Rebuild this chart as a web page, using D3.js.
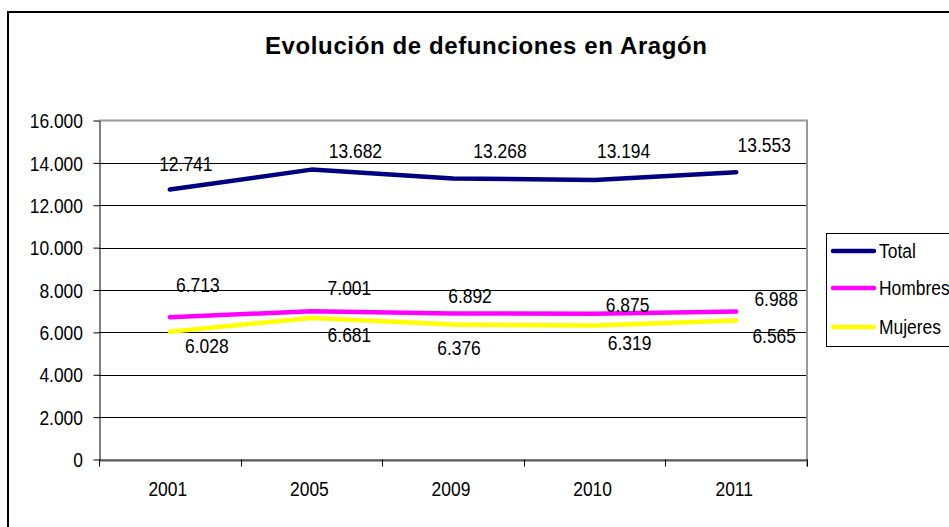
<!DOCTYPE html>
<html>
<head>
<meta charset="utf-8">
<script src="https://cdn.jsdelivr.net/npm/d3@7"></script>
<style>
  html, body { margin: 0; padding: 0; background: #fff; }
  svg { display: block; font-family: "Liberation Sans", Arial, sans-serif; }
</style>
</head>
<body>
<svg id="chart" width="949" height="527"></svg>
<script>
// ---- data ----
const years = ["2001", "2005", "2009", "2010", "2011"];
const total = [12741, 13682, 13268, 13194, 13553];
const hombres = [6713, 7001, 6892, 6875, 6988];
const mujeres = [6028, 6681, 6376, 6319, 6565];
const yTicks = [0, 2000, 4000, 6000, 8000, 10000, 12000, 14000, 16000];
const seriesNames = ["Total", "Hombres", "Mujeres"];
const chartTitle = "Evolución de defunciones en Aragón";

// ---- style config ----
const colors = ["#000080", "#FF00FF", "#FFFF00"];
// manual label offsets (dx, dy from point to label centre/baseline), as placed in the original
const labelOffsets = [
  [[16, -19], [44, -12], [47, -20], [29, -22], [28, -20]],
  [[28, -25], [38, -16], [17, -10], [33, -2], [40, -5]],
  [[37, 21], [38, 24], [6, 31], [35, 24], [38, 23]]
];

const loc = d3.formatLocale({ decimal: ",", thousands: ".", grouping: [3], currency: ["", ""] });
const fmt = loc.format(",d");
const SX = 0.83;
const FS = 21;

const svg = d3.select("#chart");
const pLeft = 99, pRight = 807, pTop = 120.5, pBottom = 459.5;

// outer frame (clipped by page edge)
svg.append("path").attr("d", "M8,560 L8,12 L960,12")
  .attr("fill", "none").attr("stroke", "#000").attr("stroke-width", 2);

// title
svg.append("text")
  .attr("x", 486).attr("y", 54)
  .attr("text-anchor", "middle")
  .attr("font-weight", "bold").attr("font-size", 24)
  .attr("textLength", 442).attr("lengthAdjust", "spacing")
  .text(chartTitle);

const x = d3.scaleBand().domain(years).range([pLeft, pRight]).padding(0);
const y = d3.scaleLinear().domain([0, 16000]).range([pBottom, pTop]);

// gridlines
svg.append("g").selectAll("line").data(yTicks.filter(t => t > 0 && t < 16000)).join("line")
  .attr("x1", pLeft).attr("x2", pRight)
  .attr("y1", d => Math.round(y(d)) + 0.5).attr("y2", d => Math.round(y(d)) + 0.5)
  .attr("stroke", "#000").attr("stroke-width", 1);

// plot area border (top/right grey)
svg.append("path")
  .attr("d", `M${pLeft},${pTop} L${pRight},${pTop} L${pRight},${pBottom + 7}`)
  .attr("fill", "none").attr("stroke", "#999").attr("stroke-width", 2);

// bottom axis line
svg.append("line").attr("x1", pLeft).attr("x2", pRight).attr("y1", pBottom + 1.5).attr("y2", pBottom + 1.5)
  .attr("stroke", "#aaa").attr("stroke-width", 2);
svg.append("line").attr("x1", pLeft).attr("x2", pRight).attr("y1", pBottom + 0.5).attr("y2", pBottom + 0.5)
  .attr("stroke", "#000").attr("stroke-width", 1);

// y axis
const yAxis = d3.axisLeft(y).tickValues(yTicks).tickSize(6).tickSizeOuter(0).tickFormat(d => fmt(d));
const gy = svg.append("g").attr("transform", `translate(${pLeft + 0.5},0)`).call(yAxis);
gy.select(".domain").attr("stroke", "#000");
gy.selectAll(".tick line").attr("stroke", "#000");
gy.selectAll(".tick text")
  .attr("font-family", "Liberation Sans, Arial, sans-serif")
  .attr("font-size", FS).attr("fill", "#000")
  .attr("x", -16.5 / SX).attr("dy", "0.34em")
  .attr("transform", `scale(${SX},1)`);

// x axis labels
const xAxis = d3.axisBottom(x).tickSize(0).tickPadding(22);
const gx = svg.append("g").attr("transform", `translate(0,${pBottom})`).call(xAxis);
gx.select(".domain").remove();
gx.selectAll(".tick text")
  .attr("font-family", "Liberation Sans, Arial, sans-serif")
  .attr("font-size", FS).attr("fill", "#000")
  .attr("transform", `scale(${SX},1)`);
gx.selectAll(".tick").attr("transform", d => `translate(${x(d) + x.bandwidth() / 2 - 2},0)`);

// x boundary ticks
const bounds = years.map(d => x(d)).concat([pRight]);
svg.append("g").selectAll("line").data(bounds).join("line")
  .attr("x1", d => Math.round(d) + 0.5).attr("x2", d => Math.round(d) + 0.5)
  .attr("y1", pBottom).attr("y2", pBottom + 7)
  .attr("stroke", "#000");

// lines
const seriesData = [total, hombres, mujeres];
const line = d3.line()
  .x((d, i) => x(years[i]) + x.bandwidth() / 2)
  .y(d => y(d));

[2, 1, 0].forEach(si => {
  svg.append("path").datum(seriesData[si])
    .attr("d", line)
    .attr("fill", "none")
    .attr("stroke", colors[si])
    .attr("stroke-width", 4.5)
    .attr("stroke-linejoin", "round")
    .attr("stroke-linecap", "round");
});

// data labels
seriesData.forEach((vals, si) => {
  svg.append("g").selectAll("text").data(vals).join("text")
    .attr("transform", (d, i) => {
      const px = x(years[i]) + x.bandwidth() / 2 + labelOffsets[si][i][0];
      const py = y(d) + labelOffsets[si][i][1];
      return `translate(${px},${py}) scale(${SX},1)`;
    })
    .attr("text-anchor", "middle")
    .attr("font-size", FS)
    .attr("fill", "#000")
    .text(d => fmt(d));
});

// legend
const lg = svg.append("g");
lg.append("rect").attr("x", 826.5).attr("y", 233.5).attr("width", 200).attr("height", 113)
  .attr("fill", "#fff").attr("stroke", "#000").attr("stroke-width", 1);
const legY = [251, 288, 327];
seriesNames.forEach((name, i) => {
  lg.append("line").attr("x1", 833).attr("x2", 874).attr("y1", legY[i]).attr("y2", legY[i])
    .attr("stroke", colors[i]).attr("stroke-width", 4.5).attr("stroke-linecap", "round");
  lg.append("text")
    .attr("transform", `translate(879,${legY[i] + 7}) scale(${SX},1)`)
    .attr("font-size", FS).attr("fill", "#000")
    .text(name);
});
</script>
</body>
</html>
